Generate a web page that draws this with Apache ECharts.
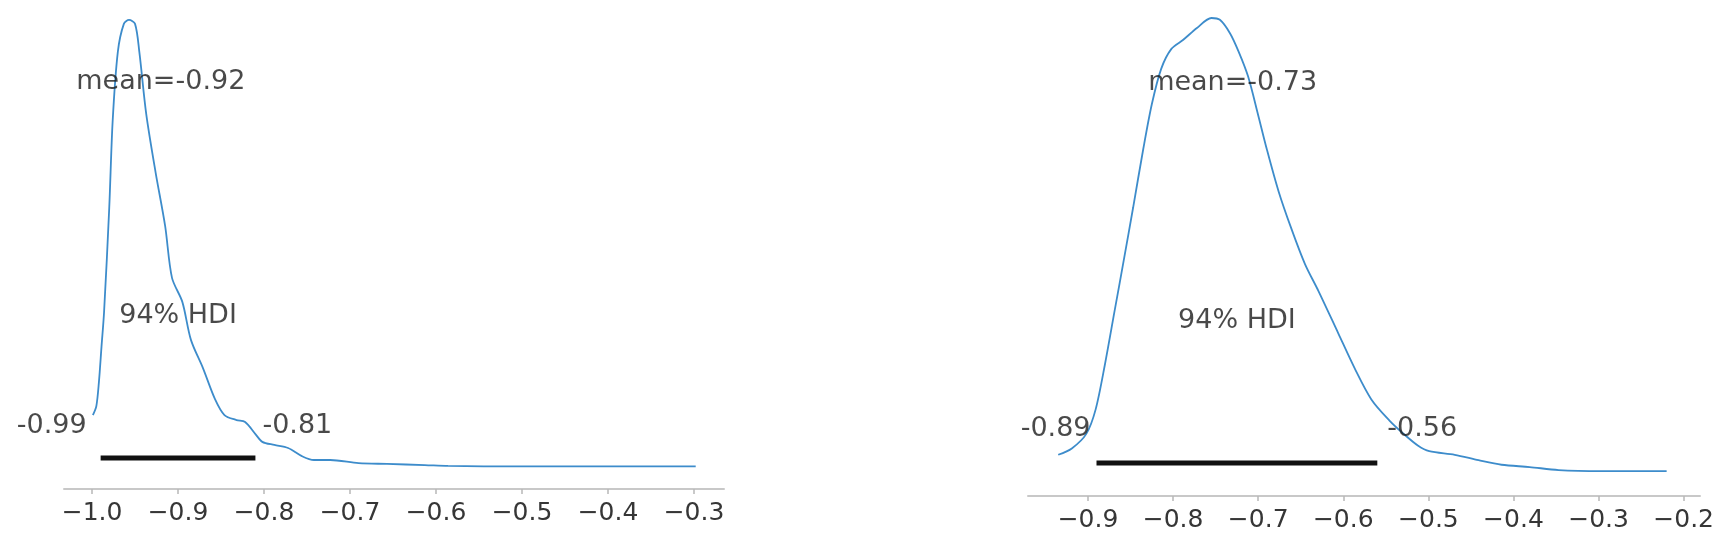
<!DOCTYPE html>
<html>
<head>
<meta charset="utf-8">
<script src="https://cdn.jsdelivr.net/npm/echarts@6/dist/echarts.min.js"></script>
<style>
html,body{margin:0;padding:0;background:#fff;}
#c{width:1727px;height:544px;}
</style>
</head>
<body>
<div id="c"></div>
<script>
// ---- data ----
const leftX = [-0.999,-0.995,-0.992,-0.989,-0.986,-0.980,-0.976,-0.970,-0.963,-0.957,-0.950,-0.945,-0.937,-0.926,-0.915,-0.907,-0.895,-0.885,-0.871,-0.857,-0.846,-0.832,-0.822,-0.810,-0.802,-0.788,-0.772,-0.756,-0.742,-0.723,-0.690,-0.657,-0.613,-0.586,-0.503,-0.394,-0.298];
const leftY = [1.86,2.18,3.04,4.30,5.55,9.27,12.39,14.86,15.86,16.0,15.86,14.86,12.64,10.53,8.63,6.77,5.91,4.55,3.54,2.43,1.86,1.68,1.61,1.18,0.90,0.79,0.68,0.39,0.25,0.25,0.14,0.11,0.07,0.04,0.02,0.02,0.02];
const rightX = [-0.935,-0.919,-0.902,-0.891,-0.880,-0.869,-0.858,-0.847,-0.835,-0.825,-0.814,-0.802,-0.788,-0.772,-0.755,-0.745,-0.733,-0.723,-0.712,-0.700,-0.690,-0.676,-0.661,-0.645,-0.629,-0.606,-0.587,-0.567,-0.546,-0.529,-0.512,-0.499,-0.469,-0.441,-0.414,-0.381,-0.347,-0.297,-0.220];
const rightY = [0.19,0.26,0.42,0.69,1.19,1.76,2.33,2.91,3.56,4.05,4.44,4.66,4.76,4.89,5.0,4.98,4.83,4.63,4.36,3.93,3.56,3.09,2.68,2.29,1.99,1.53,1.15,0.80,0.57,0.42,0.29,0.23,0.19,0.13,0.08,0.055,0.022,0.011,0.011];
const leftMean = -0.92, rightMean = -0.73;
const leftHdi = [-0.99, -0.81];
const rightHdi = [-0.89, -0.56];
const leftTicks = [-1.0,-0.9,-0.8,-0.7,-0.6,-0.5,-0.4,-0.3];
const rightTicks = [-0.9,-0.8,-0.7,-0.6,-0.5,-0.4,-0.3,-0.2];
const hdiText = '94% HDI';

const zip = (a,b) => a.map((v,i)=>[v,b[i]]);
const fmtTick = v => (v < 0 ? '\u2212' : '') + Math.abs(v).toFixed(1);
const FONT = 'DejaVu Sans';
const txtColor = '#1c1c1c';

function xAxisDef(gi, min, max, ticks){
  return {
    type:'value', gridIndex:gi, min:min, max:max,
    axisLine:{show:true, onZero:false, lineStyle:{color:'#c8c8c8', width:2}},
    axisTick:{show:true, length:5, customValues:ticks, lineStyle:{color:'#b8b8b8', width:1.5}},
    axisLabel:{show:true, customValues:ticks, formatter:fmtTick, fontFamily:FONT, fontSize:25, color:'#363636', margin:12},
    splitLine:{show:false}
  };
}
function yAxisDef(gi, min, max){
  return {type:'value', gridIndex:gi, min:min, max:max, show:false, splitLine:{show:false}};
}
function labelSeries(gi, items){
  return {
    type:'scatter', xAxisIndex:gi, yAxisIndex:gi, symbolSize:0, silent:true, z:5,
    data: items.map(it => ({
      value:[it.x, it.y],
      label:{show:true, formatter:it.t, position:it.pos, distance:it.d||0,
        fontFamily:FONT, fontSize:27, color:txtColor}
    }))
  };
}
function hdiSeries(gi, hdi, y){
  return {type:'line', xAxisIndex:gi, yAxisIndex:gi, data:[[hdi[0],y],[hdi[1],y]],
    symbol:'none', lineStyle:{color:'#111', width:5}, silent:true, z:3};
}
function curveSeries(gi, xs, ys){
  return {type:'line', xAxisIndex:gi, yAxisIndex:gi, data:zip(xs,ys), smooth:0.3,
    symbol:'none', lineStyle:{color:'#3d8ccb', width:1.8}, silent:true, z:2};
}

const option = {
  animation:false,
  backgroundColor:'#fff',
  grid:[
    {left:64, width:660, top:10, bottom:55},
    {left:1028, width:672, top:10, bottom:48}
  ],
  xAxis:[
    xAxisDef(0, -1.0326, -0.2651, leftTicks),
    xAxisDef(1, -0.9705, -0.1808, rightTicks)
  ],
  yAxis:[
    yAxisDef(0, -0.787, 16.356),
    yAxisDef(1, -0.264, 5.088)
  ],
  series:[
    curveSeries(0, leftX, leftY),
    hdiSeries(0, leftHdi, 0.32),
    labelSeries(0, [
      {x:leftMean, y:13.78, t:'mean=-' + Math.abs(leftMean).toFixed(2), pos:'inside'},
      {x:(leftHdi[0]+leftHdi[1])/2, y:5.40, t:hdiText, pos:'inside'},
      {x:leftHdi[0], y:1.47, t:'-' + Math.abs(leftHdi[0]).toFixed(2), pos:'left', d:14},
      {x:leftHdi[1], y:1.47, t:'-' + Math.abs(leftHdi[1]).toFixed(2), pos:'right', d:7}
    ]),
    curveSeries(1, rightX, rightY),
    hdiSeries(1, rightHdi, 0.10),
    labelSeries(1, [
      {x:rightMean, y:4.28, t:'mean=-' + Math.abs(rightMean).toFixed(2), pos:'inside'},
      {x:(rightHdi[0]+rightHdi[1])/2, y:1.66, t:hdiText, pos:'inside'},
      {x:rightHdi[0], y:0.47, t:'-' + Math.abs(rightHdi[0]).toFixed(2), pos:'left', d:6},
      {x:rightHdi[1], y:0.47, t:'-' + Math.abs(rightHdi[1]).toFixed(2), pos:'right', d:10}
    ])
  ]
};
const chart = echarts.init(document.getElementById('c'), null, {renderer:'canvas'});
chart.setOption(option);
</script>
</body>
</html>
